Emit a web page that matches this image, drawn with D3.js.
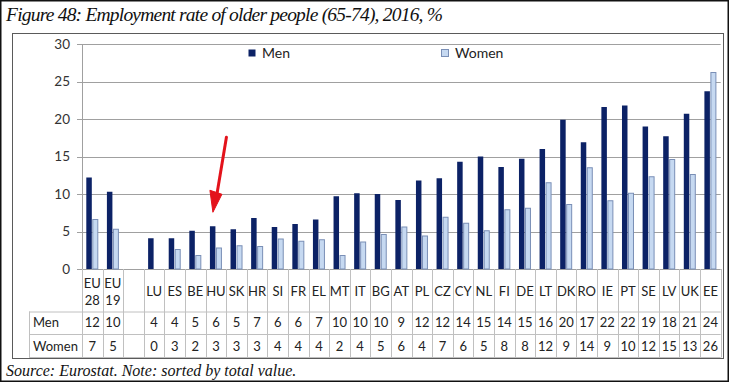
<!DOCTYPE html>
<html><head><meta charset="utf-8">
<script src="https://cdn.jsdelivr.net/npm/d3@7"></script>
<style>
html,body{margin:0;padding:0;background:#fff;}
svg{display:block;}
</style></head>
<body>
<svg id="chart" width="730" height="382"></svg>
<script>
const categories = ["EU28","EU19","","LU","ES","BE","HU","SK","HR","SI","FR","EL","MT","IT","BG","AT","PL","CZ","CY","NL","FI","DE","LT","DK","RO","IE","PT","SE","LV","UK","EE"];
const categoryLines = [["EU","28"],["EU","19"],[""],["LU"],["ES"],["BE"],["HU"],["SK"],["HR"],["SI"],["FR"],["EL"],["MT"],["IT"],["BG"],["AT"],["PL"],["CZ"],["CY"],["NL"],["FI"],["DE"],["LT"],["DK"],["RO"],["IE"],["PT"],["SE"],["LV"],["UK"],["EE"]];
const menValues   = [12.2,10.3,null,4.1,4.1,5.1,5.7,5.3,6.8,5.6,6.0,6.6,9.7,10.1,10.0,9.2,11.8,12.1,14.3,15.0,13.6,14.7,16.0,19.9,16.9,21.6,21.8,19.0,17.7,20.7,23.7];
const womenValues = [6.6,5.3,null,0,2.6,1.8,2.8,3.1,3.0,4.0,3.7,3.9,1.8,3.6,4.6,5.6,4.4,6.9,6.1,5.1,7.9,8.1,11.5,8.6,13.5,9.1,10.1,12.3,14.6,12.6,26.2];
const menTable   = ["12","10","","4","4","5","6","5","7","6","6","7","10","10","10","9","12","12","14","15","14","15","16","20","17","22","22","19","18","21","24"];
const womenTable = ["7","5","","0","3","2","3","3","3","4","4","4","2","4","5","6","4","7","6","5","8","8","12","9","14","9","10","12","15","13","26"];
const yTicks = [0,5,10,15,20,25,30];
const seriesNames = ["Men","Women"];
const titleText = "Figure 48: Employment rate of older people (65-74), 2016, %";
const sourceText = "Source: Eurostat. Note: sorted by total value.";
const highlighted = "HU";

const svg = d3.select("#chart");
const sans = "Lato, 'Open Sans', sans-serif";
const serif = "'Liberation Serif', 'Times New Roman', serif";
const menColor = "#0c2266", womenFill = "#c6d9f1", womenStroke = "#7a8fb6";

// outer border
svg.append("rect").attr("x",0.75).attr("y",0.75).attr("width",727.5).attr("height",380.5)
  .attr("fill","none").attr("stroke","#111").attr("stroke-width",1.5);

svg.append("text").attr("x",6).attr("y",21).text(titleText)
  .attr("font-family",serif).attr("font-style","italic").attr("font-size",19.5)
  .attr("textLength",437).attr("lengthAdjust","spacing").attr("fill","#111");
svg.append("text").attr("x",6).attr("y",376).text(sourceText)
  .attr("font-family",serif).attr("font-style","italic").attr("font-size",16).attr("fill","#111");

// chart frame
svg.append("rect").attr("x",12.5).attr("y",33.5).attr("width",711).attr("height",325)
  .attr("fill","none").attr("stroke","#5a5a5a").attr("stroke-width",1);

const x = d3.scaleBand().domain(categories.map((c,i)=>i)).range([82,720.7]).padding(0);
const y = d3.scaleLinear().domain([0,30]).range([269,44]);

// gridlines
svg.append("g").selectAll("line").data(yTicks).join("line")
  .attr("x1",77).attr("x2",720.7)
  .attr("y1",d=>Math.round(y(d))+0.5).attr("y2",d=>Math.round(y(d))+0.5)
  .attr("stroke","#a0a0a0").attr("stroke-width",1);
svg.append("line").attr("x1",82.5).attr("x2",82.5).attr("y1",44).attr("y2",269.5).attr("stroke","#a0a0a0");
svg.append("g").selectAll("text").data(yTicks).join("text")
  .attr("x",70).attr("y",d=>y(d)).attr("dy","0.35em").attr("text-anchor","end")
  .attr("font-family",sans).attr("font-size",13.5).attr("fill","#333").text(d=>d);

const bw = 6;
const g = svg.append("g");
g.selectAll("rect.men").data(menValues.map((v,i)=>({v,i})).filter(d=>d.v!=null)).join("rect")
  .attr("x",d=>x(d.i)+x.bandwidth()/2-bw).attr("width",bw-0.5)
  .attr("y",d=>y(d.v)).attr("height",d=>y(0)-y(d.v)).attr("fill",menColor);
g.selectAll("rect.women").data(womenValues.map((v,i)=>({v,i})).filter(d=>d.v!=null && d.v>0)).join("rect")
  .attr("x",d=>x(d.i)+x.bandwidth()/2+0.5).attr("width",bw-1)
  .attr("y",d=>y(d.v)).attr("height",d=>y(0)-y(d.v)).attr("fill",womenFill)
  .attr("stroke",womenStroke).attr("stroke-width",1);

// legend
const legend = [{name:seriesNames[0],x:248,fill:menColor,stroke:"none"},{name:seriesNames[1],x:441,fill:womenFill,stroke:womenStroke}];
legend.forEach(l=>{
  svg.append("rect").attr("x",l.x+0.5).attr("y",49.5).attr("width",7).attr("height",7)
    .attr("fill",l.fill).attr("stroke",l.stroke);
  svg.append("text").attr("x",l.x+14).attr("y",53).attr("dy","0.35em").text(l.name)
    .attr("font-family",sans).attr("font-size",14).attr("fill","#222");
});

// data table
const tTop = 269, r1 = 311.5, r2 = 334, r3 = 357;
const left = 29, right = 720.7;
const tl = svg.append("g").attr("stroke","#c0c0c0").attr("stroke-width",1);
[r1,r2,r3].forEach(yy=>tl.append("line").attr("x1",left).attr("x2",right).attr("y1",yy+0.5).attr("y2",yy+0.5));
const bounds = categories.map((c,i)=>x(i)).concat([right]);
bounds.forEach(bx=>tl.append("line").attr("x1",Math.round(bx)+0.5).attr("x2",Math.round(bx)+0.5).attr("y1",tTop).attr("y2",r3+0.5));
tl.append("line").attr("x1",left+0.5).attr("x2",left+0.5).attr("y1",r1).attr("y2",r3+0.5);

const tx = svg.append("g").attr("font-family",sans).attr("font-size",13).attr("fill","#222").attr("text-anchor","middle");
categoryLines.forEach((lines,i)=>{
  const cx = x(i)+x.bandwidth()/2;
  if(lines.length===2){
    tx.append("text").attr("x",cx).attr("y",283).attr("dy","0.35em").text(lines[0]);
    tx.append("text").attr("x",cx).attr("y",300).attr("dy","0.35em").text(lines[1]);
  } else {
    tx.append("text").attr("x",cx).attr("y",291.5).attr("dy","0.35em").text(lines[0]);
  }
  tx.append("text").attr("x",cx).attr("y",322.5).attr("dy","0.35em").text(menTable[i]);
  tx.append("text").attr("x",cx).attr("y",346).attr("dy","0.35em").text(womenTable[i]);
});
tx.append("text").attr("x",33).attr("y",322.5).attr("dy","0.35em").attr("text-anchor","start").text(seriesNames[0]);
tx.append("text").attr("x",33).attr("y",346).attr("dy","0.35em").attr("text-anchor","start").text(seriesNames[1]);

// red hand-drawn arrow pointing at the highlighted country
const hi = categories.indexOf(highlighted);
const ax = x(hi) + x.bandwidth()/2 - 3;          // tip aligned over the men bar
const tipY = y(menValues[hi]) - 14;
const arrow = svg.append("g").attr("fill","#e3121b").attr("stroke","#e3121b");
arrow.append("line").attr("x1",ax+13.5).attr("y1",tipY-75).attr("x2",ax+4).attr("y2",tipY-18)
  .attr("stroke-width",3).attr("stroke-linecap","round");
arrow.append("path").attr("d",`M${ax-3},${tipY-22} L${ax+9},${tipY-18} L${ax},${tipY} Z`).attr("stroke-width",1).attr("stroke-linejoin","round");
</script>
</body></html>
